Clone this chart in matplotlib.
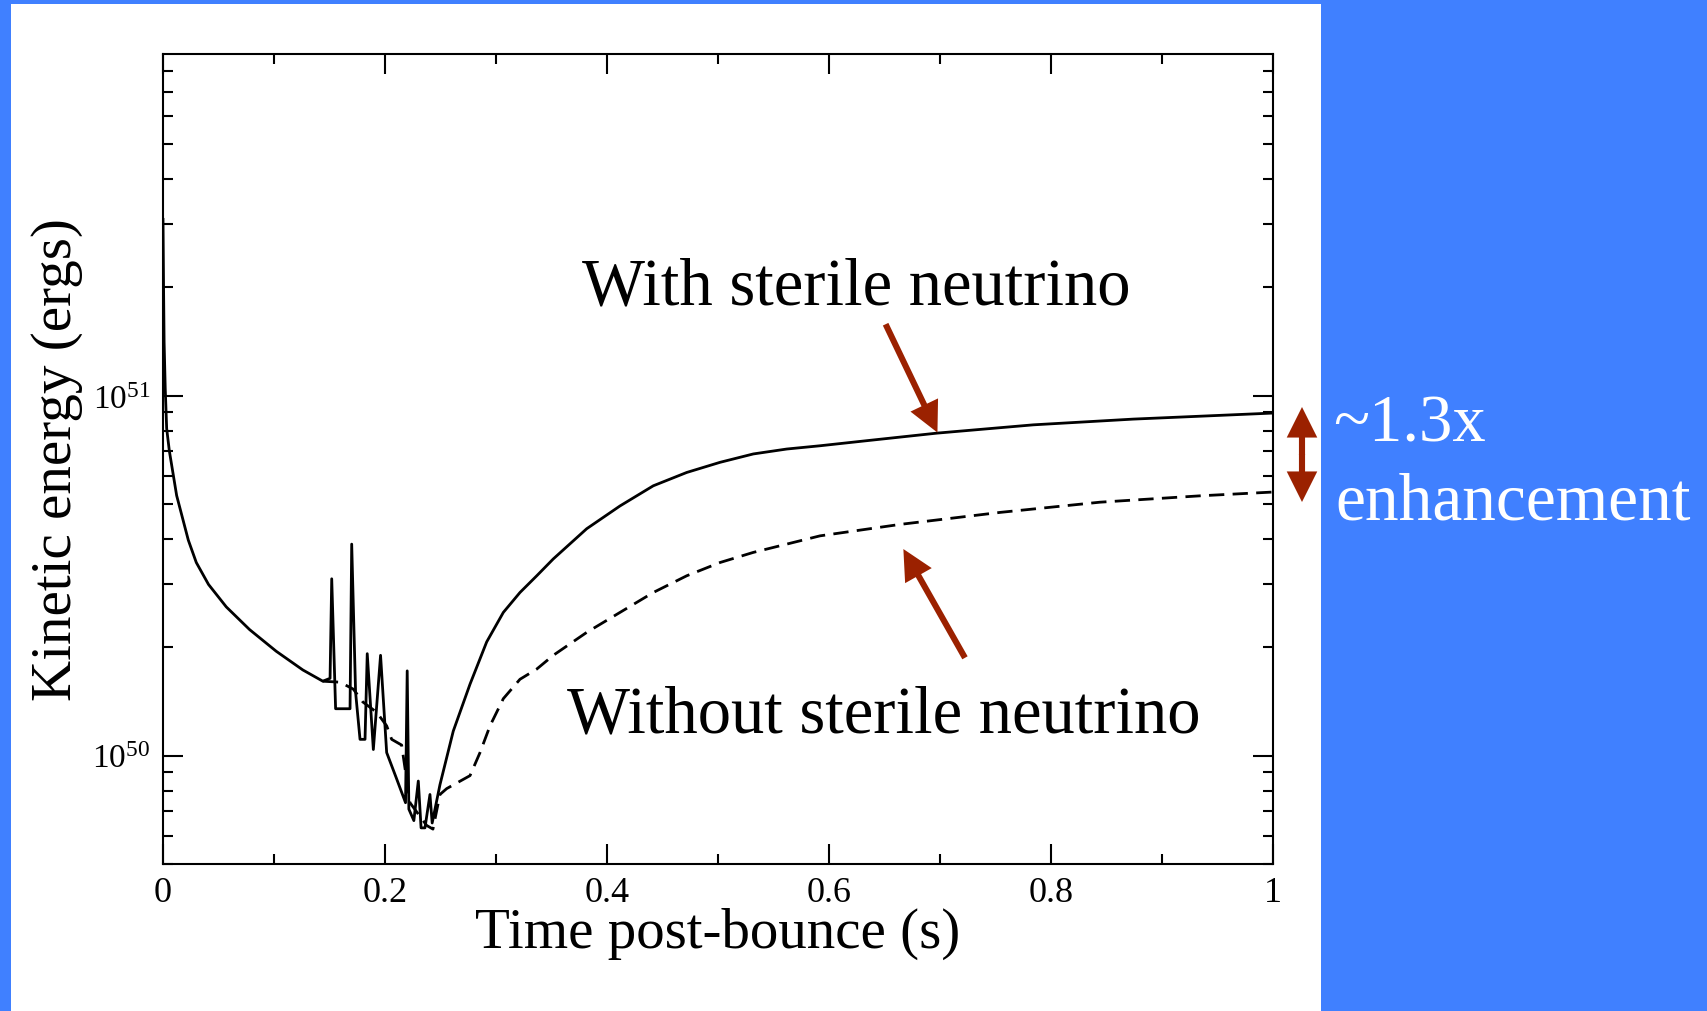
import numpy as np
import matplotlib
matplotlib.use("Agg")
import matplotlib.pyplot as plt
from matplotlib.patches import Rectangle
from matplotlib.ticker import MultipleLocator, LogLocator, NullFormatter, LogFormatterMathtext

plt.rcParams['font.family'] = ['Liberation Serif', 'DejaVu Serif']
plt.rcParams['mathtext.default'] = 'regular'

# time post-bounce (s) and kinetic energy (units of 1e50 erg)
t_with = [0, 0.0005, 0.001, 0.002, 0.0033, 0.0057, 0.0123, 0.0228, 0.030, 0.041,
          0.057, 0.078, 0.102, 0.126, 0.144, 0.1505, 0.152, 0.1555, 0.1685, 0.170,
          0.1735, 0.1775, 0.182, 0.184, 0.1895, 0.196, 0.2015, 0.210, 0.2185, 0.220,
          0.2215, 0.226, 0.230, 0.2325, 0.236, 0.2405, 0.2425, 0.2495, 0.2615, 0.2766,
          0.2916, 0.3066, 0.3216, 0.3367, 0.3516, 0.3817, 0.4117, 0.4417, 0.4718, 0.5018,
          0.5318, 0.5619, 0.5919, 0.634, 0.697, 0.784, 0.874, 1.0]
e_with = [30.9, 20.0, 14.1, 10.5, 8.11, 7.03, 5.28, 3.97, 3.44, 2.99,
          2.59, 2.24, 1.95, 1.73, 1.61, 1.64, 3.10, 1.35, 1.35, 3.87,
          1.50, 1.11, 1.11, 1.92, 1.04, 1.90, 1.02, 0.87, 0.74, 1.72,
          0.71, 0.66, 0.85, 0.63, 0.63, 0.78, 0.65, 0.83, 1.17, 1.58,
          2.07, 2.50, 2.84, 3.16, 3.52, 4.27, 4.94, 5.62, 6.12, 6.53,
          6.89, 7.11, 7.26, 7.50, 7.87, 8.30, 8.61, 8.95]

t_without = [0.144, 0.1595, 0.1715, 0.180, 0.1925, 0.2015, 0.206, 0.215, 0.2225, 0.2375,
             0.2432, 0.2495, 0.2556, 0.2766, 0.2856, 0.2946, 0.3066, 0.3216, 0.3367, 0.3516,
             0.3817, 0.4117, 0.4417, 0.4718, 0.5018, 0.5318, 0.5619, 0.5919, 0.664, 0.754,
             0.844, 0.934, 1.0]
e_without = [1.61, 1.60, 1.53, 1.41, 1.32, 1.21, 1.11, 1.07, 0.74, 0.64,
             0.625, 0.78, 0.81, 0.88, 1.02, 1.21, 1.44, 1.63, 1.74, 1.90,
             2.20, 2.50, 2.84, 3.16, 3.44, 3.67, 3.87, 4.08, 4.39, 4.74,
             5.06, 5.27, 5.40]

x_ticks = [0, 0.2, 0.4, 0.6, 0.8, 1.0]
x_ticklabels = ['0', '0.2', '0.4', '0.6', '0.8', '1']

blue = '#4080ff'
red = '#9b2100'
W, H = 1708, 1012

fig = plt.figure(figsize=(W / 100, H / 100), dpi=100, facecolor=blue)
fig.add_artist(Rectangle((11 / W, 0), 1310 / W, 1007 / H, transform=fig.transFigure,
                         facecolor='white', edgecolor='none', zorder=0))

ax = fig.add_axes([163 / W, 1 - 865 / H, 1110 / W, 810 / H])
ax.set_facecolor('white')

ax.plot(t_with, np.array(e_with) * 1e50, color='black', lw=2.0)
ax.plot(t_without, np.array(e_without) * 1e50, color='black', lw=2.0, dashes=(5.5, 3))

ax.set_yscale('log')
ax.set_xlim(0, 1)
ax.set_ylim(5e49, 8.9e51)
ax.set_xticks(x_ticks)
ax.set_xticklabels(x_ticklabels)
ax.xaxis.set_minor_locator(MultipleLocator(0.1))
ax.yaxis.set_major_locator(LogLocator(base=10))
ax.yaxis.set_major_formatter(LogFormatterMathtext())
ax.yaxis.set_minor_locator(LogLocator(base=10, subs=np.arange(2, 10)))
ax.yaxis.set_minor_formatter(NullFormatter())

ax.tick_params(which='both', direction='in', top=True, right=True, width=1.5, pad=9)
ax.tick_params(axis='x', labelsize=26)
ax.tick_params(axis='y', labelsize=24)
ax.tick_params(which='major', length=14.4)
ax.tick_params(which='minor', length=7.2)
for s in ax.spines.values():
    s.set_linewidth(1.5)

ax.set_xlabel('Time post-bounce (s)', fontsize=41, va='baseline')
ax.xaxis.set_label_coords(0.5, -(948 - 865) / 810)
ax.set_ylabel('Kinetic energy (ergs)', fontsize=41, va='center')
ax.yaxis.set_label_coords(-0.0955, 0.5)

# curve labels and arrows
ax.text(0.625, 1.8e51, 'With sterile neutrino', fontsize=48, ha='center', va='baseline')
ax.text(0.649, 1.17e50, 'Without sterile neutrino', fontsize=48, ha='center', va='baseline')

arrow = dict(arrowstyle='simple,head_length=0.5,head_width=0.5,tail_width=0.1',
             mutation_scale=44, color=red, lw=0, shrinkA=0, shrinkB=0)
ax.annotate('', xy=(0.6977, 7.9e50), xytext=(0.651, 1.58e51), arrowprops=arrow)
ax.annotate('', xy=(0.667, 3.75e50), xytext=(0.7225, 1.87e50), arrowprops=arrow)

# double arrow outside the axes
xc = 1302 / W
ax.annotate('', xy=(xc, 1 - 408 / H), xytext=(xc, 1 - 456 / H), xycoords='figure fraction',
            textcoords='figure fraction', arrowprops=arrow)
ax.annotate('', xy=(xc, 1 - 503 / H), xytext=(xc, 1 - 455 / H), xycoords='figure fraction',
            textcoords='figure fraction', arrowprops=arrow)

fig.text(1333 / W, 1 - 442 / H, '~1.3x', fontsize=48, color='white', va='baseline')
fig.text(1335 / W, 1 - 520 / H, 'enhancement', fontsize=48.5, color='white', va='baseline')

fig.savefig('out.png', dpi=100, facecolor=blue)
